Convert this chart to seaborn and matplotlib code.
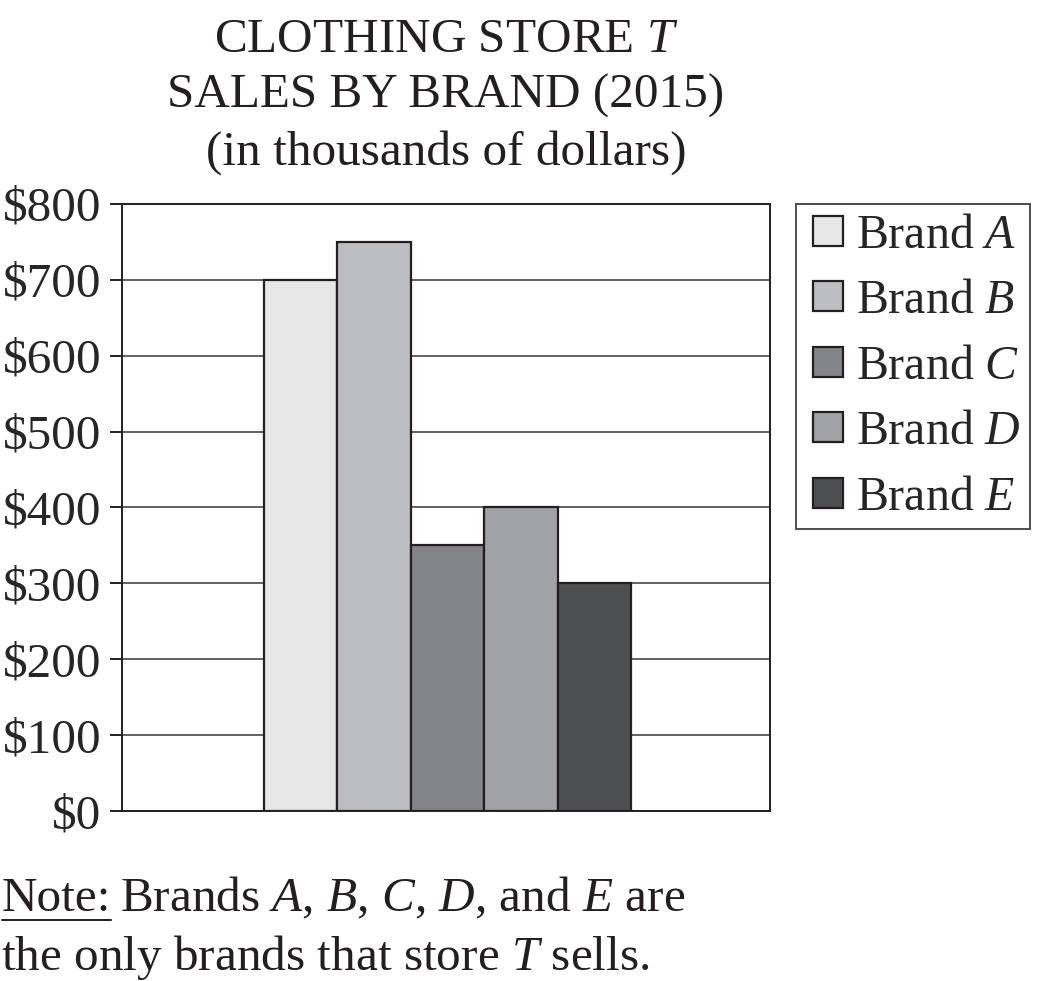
import matplotlib
matplotlib.use('Agg')
import matplotlib.pyplot as plt
import matplotlib.patches as mpatches
from matplotlib.legend_handler import HandlerPatch
import seaborn as sns

# data (thousands of dollars)
brands = ['A', 'B', 'C', 'D', 'E']
sales = [700, 750, 350, 400, 300]
colors = ['#e6e6e7', '#bcbdc1', '#838487', '#a1a2a6', '#4d4e50']
yticks = [0, 100, 200, 300, 400, 500, 600, 700, 800]
ytick_labels = ['\\$' + str(v) for v in yticks]

sns.set_style('white')
plt.rcParams['font.family'] = ['Liberation Serif', 'DejaVu Serif']
plt.rcParams['mathtext.fontset'] = 'custom'
plt.rcParams['mathtext.rm'] = 'Liberation Serif'
plt.rcParams['mathtext.it'] = 'Liberation Serif:italic'

FS = 35.5
W, H = 1039, 981
fig = plt.figure(figsize=(W / 100, H / 100), dpi=100)
ax = fig.add_axes([122 / W, 1 - 811 / H, (770 - 122) / W, (811 - 204) / H])

labels = ['Brand $\\mathit{' + b + '}$' for b in brands]
sns.barplot(x=labels, y=sales, hue=labels, palette=colors, width=1.0,
            edgecolor='#231f20', linewidth=1.6, saturation=1, legend=False, ax=ax, zorder=3)

ax.set_ylim(0, 800)
ax.set_xlim(-2.434, 6.394)
ax.set_xticks([])
ax.set_yticks(yticks)
ax.set_yticklabels(ytick_labels, fontsize=FS)
ax.tick_params(axis='y', direction='out', length=9, width=1.4, color='#231f20', pad=6, left=True)
ax.yaxis.grid(True, color='#555555', linewidth=1.3, zorder=0)
ax.set_axisbelow(True)
for s in ax.spines.values():
    s.set_visible(True)
    s.set_color('#231f20')
    s.set_linewidth(1.4)
ax.set_xlabel('')
ax.set_ylabel('')


# square legend keys pushed to the right of their handle box
def square_key(legend, orig_handle, xdescent, ydescent, width, height, fontsize):
    return mpatches.Rectangle((width - height - xdescent, -ydescent), height, height)


handles = ax.patches[:len(brands)]
leg = ax.legend(handles, labels, loc='upper left', bbox_to_anchor=(796 / W, 1 - 204 / H),
                bbox_transform=fig.transFigure, fontsize=34.5, frameon=True, fancybox=False,
                borderaxespad=0, handlelength=0.78, handleheight=0.58, handletextpad=0.27,
                labelspacing=0.45, borderpad=0.2,
                handler_map={mpatches.Rectangle: HandlerPatch(patch_func=square_key)})
leg.get_frame().set_edgecolor('#231f20')
leg.get_frame().set_linewidth(1.4)

# title
cx = (122 + 770) / 2 / W
title_lines = ['CLOTHING STORE $\\mathit{T}$', 'SALES BY BRAND (2015)', '(in thousands of dollars)']
for line, base in zip(title_lines, [52, 108, 165]):
    fig.text(cx, 1 - base / H, line, ha='center', va='baseline', fontsize=FS, color='#231f20')

# note
t = fig.text(2 / W, 1 - 911 / H, 'Note:', ha='left', va='baseline', fontsize=FS, color='#231f20')
fig.canvas.draw()
bb = t.get_window_extent()
fig.add_artist(plt.Line2D([bb.x0 / W, bb.x1 / W], [1 - 920 / H, 1 - 920 / H],
                          transform=fig.transFigure, color='#231f20', linewidth=1.4))
fig.text(bb.x1 / W + 0.008, 1 - 911 / H,
         'Brands $\\mathit{A}$, $\\mathit{B}$, $\\mathit{C}$, $\\mathit{D}$, and $\\mathit{E}$ are',
         ha='left', va='baseline', fontsize=FS, color='#231f20')
fig.text(1 / W, 1 - 970 / H, 'the only brands that store $\\mathit{T}$ sells.',
         ha='left', va='baseline', fontsize=FS, color='#231f20')

fig.savefig('out.png', dpi=100)
